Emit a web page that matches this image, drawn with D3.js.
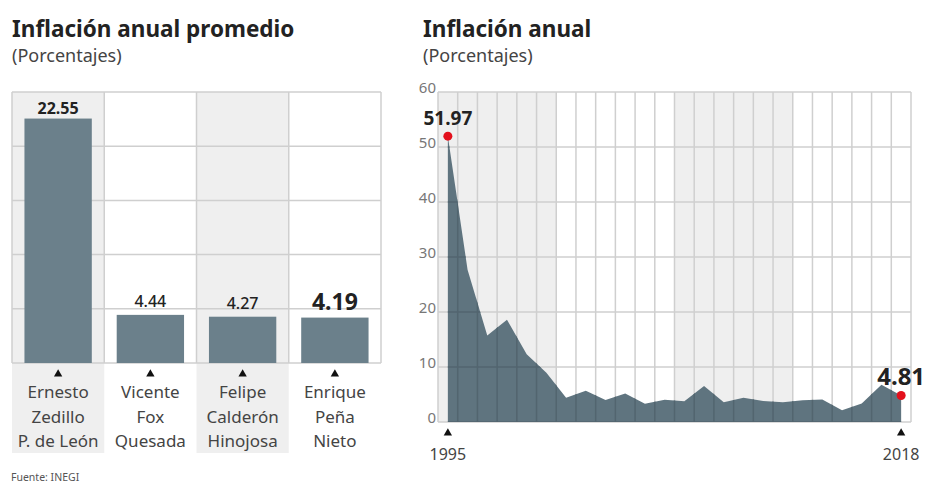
<!DOCTYPE html>
<html>
<head>
<meta charset="utf-8">
<script src="https://cdn.jsdelivr.net/npm/d3@7"></script>
<style>
body { margin: 0; background: #fff; }
text { font-family: "Noto Sans", sans-serif; }
</style>
</head>
<body>
<svg id="svg" width="939" height="484"></svg>
<script>
// data
var presidents = ["Ernesto Zedillo P. de León", "Vicente Fox Quesada", "Felipe Calderón Hinojosa", "Enrique Peña Nieto"];
var nameLines = [["Ernesto", "Zedillo", "P. de León"], ["Vicente", "Fox", "Quesada"], ["Felipe", "Calderón", "Hinojosa"], ["Enrique", "Peña", "Nieto"]];
var avgInflation = [22.55, 4.44, 4.27, 4.19];
var years = [1995, 1996, 1997, 1998, 1999, 2000, 2001, 2002, 2003, 2004, 2005, 2006,
             2007, 2008, 2009, 2010, 2011, 2012, 2013, 2014, 2015, 2016, 2017, 2018];
var inflation = [51.97, 27.70, 15.72, 18.61, 12.32, 8.96, 4.40, 5.70, 3.98, 5.19, 3.33, 4.05,
                 3.76, 6.53, 3.57, 4.40, 3.82, 3.57, 3.97, 4.08, 2.13, 3.36, 6.77, 4.81];
var leftTicks = [0, 5, 10, 15, 20, 25];
var rightTicks = [0, 10, 20, 30, 40, 50, 60];
var terms = [[1995, 2000], [2001, 2006], [2007, 2012], [2013, 2018]];

var svg = d3.select("#svg");
var gridColor = "#cfcfcf";
var shade = "#efefef";
var barColor = "#6b808b";
var areaColor = "#5f747f";

// titles
svg.append("text").attr("x", 12).attr("y", 37).text("Inflación anual promedio")
  .style("font-size", "22.5px").style("font-weight", "bold").style("fill", "#222");
svg.append("text").attr("x", 12).attr("y", 62).text("(Porcentajes)")
  .style("font-size", "18px").style("fill", "#444");
svg.append("text").attr("x", 423).attr("y", 37).text("Inflación anual")
  .style("font-size", "22.5px").style("font-weight", "bold").style("fill", "#222");
svg.append("text").attr("x", 423).attr("y", 62).text("(Porcentajes)")
  .style("font-size", "18px").style("fill", "#444");
svg.append("text").attr("x", 11).attr("y", 481).text("Fuente: INEGI")
  .style("font-size", "10.5px").style("fill", "#555");

// ---- left chart ----
var lx = d3.scaleBand().domain(presidents).range([12, 381]).paddingInner(0).paddingOuter(0);
var ly = d3.scaleLinear().domain([0, 25]).range([363, 92]);
var left = svg.append("g");

left.selectAll("rect.shade").data(presidents.filter(function(d, i) { return i % 2 == 0; }))
  .enter().append("rect")
  .attr("x", function(d) { return lx(d); })
  .attr("y", ly(25))
  .attr("width", lx.bandwidth())
  .attr("height", 453 - ly(25))
  .style("fill", shade);

left.selectAll("line.h").data(leftTicks).enter().append("line")
  .attr("x1", 12).attr("x2", 381)
  .attr("y1", function(d) { return ly(d); }).attr("y2", function(d) { return ly(d); })
  .style("stroke", gridColor).style("stroke-width", 1.5);
left.selectAll("line.v").data(presidents.concat(["end"])).enter().append("line")
  .attr("x1", function(d, i) { return i < presidents.length ? lx(d) : 381; })
  .attr("x2", function(d, i) { return i < presidents.length ? lx(d) : 381; })
  .attr("y1", ly(25)).attr("y2", ly(0))
  .style("stroke", gridColor).style("stroke-width", 1.5);

var bw = lx.bandwidth() * 0.73;
left.selectAll("rect.bar").data(avgInflation).enter().append("rect")
  .attr("x", function(d, i) { return lx(presidents[i]) + (lx.bandwidth() - bw) / 2; })
  .attr("y", function(d) { return ly(d); })
  .attr("width", bw)
  .attr("height", function(d) { return ly(0) - ly(d); })
  .style("fill", barColor);

left.selectAll("text.val").data(avgInflation).enter().append("text")
  .attr("x", function(d, i) { return lx(presidents[i]) + lx.bandwidth() / 2; })
  .attr("y", function(d, i) { return ly(d) - (i == 0 ? 5 : 8); })
  .attr("text-anchor", "middle")
  .text(function(d) { return d.toFixed(2); })
  .style("font-size", function(d, i) { return i == 3 ? "23px" : "16px"; })
  .style("font-weight", function(d, i) { return (i == 0 || i == 3) ? "bold" : "500"; })
  .style("fill", "#222");

var tri = d3.symbol().type(d3.symbolTriangle).size(30);
left.selectAll("path.tri").data(presidents).enter().append("path")
  .attr("d", tri)
  .attr("transform", function(d) { return "translate(" + (lx(d) + lx.bandwidth() / 2) + ",374)"; })
  .style("fill", "#111");

presidents.forEach(function(p, i) {
  left.selectAll(null).data(nameLines[i]).enter().append("text")
    .attr("x", lx(p) + lx.bandwidth() / 2)
    .attr("y", function(d, j) { return 398 + j * 24.5; })
    .attr("text-anchor", "middle")
    .text(function(d) { return d; })
    .style("font-size", "17px").style("fill", "#444");
});

// ---- right chart ----
var rx = d3.scaleBand().domain(years).range([438, 911]).padding(0);
var ry = d3.scaleLinear().domain([0, 60]).range([422, 92]);
var right = svg.append("g");
var cx = function(yr) { return rx(yr) + rx.bandwidth() / 2; };

right.selectAll("rect.shade").data(terms.filter(function(d, i) { return i % 2 == 0; }))
  .enter().append("rect")
  .attr("x", function(d) { return rx(d[0]); })
  .attr("y", ry(60))
  .attr("width", function(d) { return rx(d[1]) + rx.bandwidth() - rx(d[0]); })
  .attr("height", ry(0) - ry(60))
  .style("fill", shade);

function drawGrid(g, color) {
  g.selectAll(null).data(rightTicks).enter().append("line")
    .attr("x1", 438).attr("x2", 911)
    .attr("y1", function(d) { return ry(d); }).attr("y2", function(d) { return ry(d); })
    .style("stroke", color).style("stroke-width", 1.5);
  g.selectAll(null).data(years.concat([0])).enter().append("line")
    .attr("x1", function(d) { return d ? rx(d) : 911; })
    .attr("x2", function(d) { return d ? rx(d) : 911; })
    .attr("y1", ry(60)).attr("y2", ry(0))
    .style("stroke", color).style("stroke-width", 1.5);
}
drawGrid(right.append("g"), gridColor);

var area = d3.area()
  .x(function(d, i) { return cx(years[i]); })
  .y0(ry(0))
  .y1(function(d) { return ry(d); });
right.append("path").datum(inflation).attr("d", area).style("fill", areaColor);

// darker gridlines over the area
right.append("clipPath").attr("id", "areaclip")
  .append("path").datum(inflation).attr("d", area);
var over = right.append("g").attr("clip-path", "url(#areaclip)");
drawGrid(over, "#52656f");

right.selectAll("text.ytick").data(rightTicks).enter().append("text")
  .attr("x", 436).attr("y", function(d) { return ry(d) + 1; })
  .attr("text-anchor", "end")
  .text(function(d) { return d; })
  .style("font-size", "15px").style("fill", "#777");

var ends = [0, years.length - 1];
right.selectAll("circle.end").data(ends).enter().append("circle")
  .attr("cx", function(i) { return cx(years[i]); })
  .attr("cy", function(i) { return ry(inflation[i]); })
  .attr("r", 4.5).style("fill", "#e3101c");
right.append("text").attr("x", cx(years[0])).attr("y", 125).attr("text-anchor", "middle")
  .text(inflation[0].toFixed(2)).style("font-size", "19px").style("font-weight", "bold").style("fill", "#222");
right.append("text").attr("x", cx(years[years.length - 1])).attr("y", 385).attr("text-anchor", "middle")
  .text(inflation[inflation.length - 1].toFixed(2)).style("font-size", "24px").style("font-weight", "bold").style("fill", "#222");

right.selectAll("path.tri").data(ends).enter().append("path")
  .attr("d", tri)
  .attr("transform", function(i) { return "translate(" + cx(years[i]) + ",433)"; })
  .style("fill", "#111");
right.selectAll("text.yr").data(ends).enter().append("text")
  .attr("x", function(i) { return cx(years[i]); })
  .attr("y", 460).attr("text-anchor", "middle")
  .text(function(i) { return years[i]; })
  .style("font-size", "16px").style("fill", "#444");
</script>
</body>
</html>
